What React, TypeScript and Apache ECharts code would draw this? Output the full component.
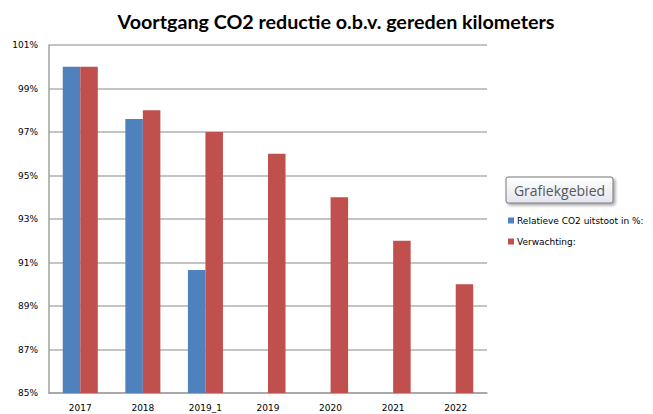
import React, { useEffect, useRef } from "react";
import * as echarts from "echarts";

const categories = ["2017", "2018", "2019_1", "2019", "2020", "2021", "2022"];
const relatieveUitstoot = [100, 97.6, 90.65, null, null, null, null];
const verwachting = [100, 98, 97, 96, 94, 92, 90];
const seriesNames = ["Relatieve CO2 uitstoot in %:", "Verwachting:"];

export default function App() {
  const ref = useRef<HTMLDivElement>(null);
  useEffect(() => {
    const chart = echarts.init(ref.current!, null, { renderer: "svg" });
    chart.setOption({
      animation: false,
      backgroundColor: "#ffffff",
      title: {
        text: "Voortgang CO2 reductie o.b.v. gereden kilometers",
        left: 331,
        top: 6,
        textAlign: "center",
        textStyle: { fontFamily: "Lato", fontWeight: "bold", fontSize: 19.7, color: "#000" },
      },
      grid: { left: 49, right: 166, top: 45, bottom: 21 },
      legend: {
        orient: "vertical",
        left: 503,
        top: 211,
        itemWidth: 6,
        itemHeight: 6,
        itemGap: 12,
        icon: "rect",
        textStyle: { fontFamily: "DejaVu Sans", fontSize: 9, color: "#000", padding: [0, 0, 0, -2] },
        data: seriesNames,
      },
      xAxis: {
        type: "category",
        data: categories,
        axisLine: { lineStyle: { color: "#a0a0a0", width: 1.5 } },
        axisTick: { show: false },
        axisLabel: { fontFamily: "DejaVu Sans", fontSize: 9, color: "#000", margin: 10 },
      },
      yAxis: {
        type: "value",
        min: 85,
        max: 101,
        interval: 2,
        axisLine: { show: true, lineStyle: { color: "#a0a0a0", width: 1.5 } },
        axisTick: { show: false },
        splitLine: { lineStyle: { color: "#b0b0b0", width: 1.5 } },
        axisLabel: {
          formatter: "{value}%",
          fontFamily: "DejaVu Sans",
          fontSize: 9,
          color: "#000",
          margin: 11,
        },
      },
      series: [
        {
          name: seriesNames[0],
          type: "bar",
          data: relatieveUitstoot,
          itemStyle: { color: "#4F81BD" },
          barGap: "0%",
          barCategoryGap: "44%",
        },
        {
          name: seriesNames[1],
          type: "bar",
          data: verwachting,
          itemStyle: { color: "#C0504D" },
          barGap: "0%",
          barCategoryGap: "44%",
        },
      ],
      graphic: [
        {
          type: "rect",
          shape: { x: 506, y: 177, width: 107, height: 26, r: 2 },
          style: {
            fill: new echarts.graphic.LinearGradient(0, 0, 0, 1, [
              { offset: 0, color: "#ffffff" },
              { offset: 1, color: "#e4e5f0" },
            ]),
            stroke: "#767676",
            lineWidth: 1,
            shadowColor: "rgba(0,0,0,0.35)",
            shadowBlur: 3,
            shadowOffsetX: 2,
            shadowOffsetY: 2,
          },
        },
        {
          type: "text",
          x: 559.5,
          y: 190,
          style: {
            text: "Grafiekgebied",
            fontFamily: "Open Sans",
            fontSize: 14,
            fill: "#575757",
            align: "center",
            verticalAlign: "middle",
          },
        },
      ],
    });
    return () => chart.dispose();
  }, []);
  return <div ref={ref} style={{ width: 653, height: 414, position: "absolute", left: 0, top: 0 }} />;
}
